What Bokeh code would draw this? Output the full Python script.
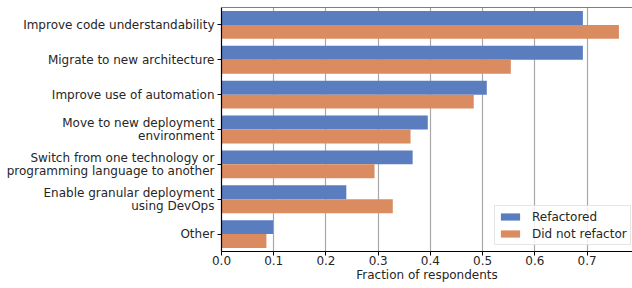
from bokeh.plotting import figure
from bokeh.models import (ColumnDataSource, FixedTicker, Span, Legend, LegendItem,
                          Range1d, FactorRange, CustomJSTickFormatter)
from bokeh.transform import dodge
from bokeh.embed import file_html
from bokeh.resources import INLINE

categories = [
    "Improve code understandability",
    "Migrate to new architecture",
    "Improve use of automation",
    "Move to new deployment\nenvironment",
    "Switch from one technology or\nprogramming language to another",
    "Enable granular deployment\nusing DevOps",
    "Other",
]
refactored = [0.692, 0.692, 0.508, 0.395, 0.366, 0.239, 0.099]
did_not_refactor = [0.761, 0.554, 0.483, 0.362, 0.293, 0.328, 0.086]
series = ["Refactored", "Did not refactor"]
colors = ["#5a7dc0", "#da8b60"]
x_ticks = [0.0, 0.1, 0.2, 0.3, 0.4, 0.5, 0.6, 0.7]
x_label = "Fraction of respondents"

src = ColumnDataSource(dict(cat=categories, refactored=refactored, did_not=did_not_refactor))

FONT = "DejaVu Sans"

p = figure(width=632, height=288, output_backend="svg", toolbar_location=None,
           y_range=FactorRange(factors=categories[::-1]), x_range=Range1d(0, 0.787),
           min_border_left=221, min_border_right=0, min_border_top=7, min_border_bottom=37)

r1 = p.hbar(y=dodge("cat", 0.2, range=p.y_range), height=0.4, left=0, right="refactored",
            source=src, color=colors[0], line_color=None)
r2 = p.hbar(y=dodge("cat", -0.2, range=p.y_range), height=0.4, left=0, right="did_not",
            source=src, color=colors[1], line_color=None)

p.outline_line_color = None
p.add_layout(Span(location=7, dimension="width", line_color="black", line_width=1.2, level="overlay"))

p.xaxis.ticker = FixedTicker(ticks=x_ticks)
p.xaxis.formatter = CustomJSTickFormatter(code="return tick.toFixed(1);")
p.xaxis.axis_label = x_label
p.xaxis.axis_label_text_font = FONT
p.xaxis.axis_label_text_font_size = "12px"
p.xaxis.axis_label_text_font_style = "normal"
p.xaxis.axis_label_text_color = "#262626"
p.xaxis.axis_label_standoff = 0

for ax in (p.xaxis, p.yaxis):
    ax.major_label_text_font = FONT
    ax.major_label_text_font_size = "12px"
    ax.major_label_text_color = "#262626"
    ax.axis_line_color = "black"
    ax.axis_line_width = 1.2
    ax.major_tick_line_color = "black"
    ax.major_tick_in = 0
    ax.major_tick_out = 4
    ax.minor_tick_line_color = None

p.xaxis.major_label_standoff = 0
p.yaxis.major_label_standoff = 3
p.yaxis.major_label_text_line_height = 0.9

p.xgrid.grid_line_color = "#a8a8a8"
p.xgrid.grid_line_width = 1.2
p.ygrid.grid_line_color = None

legend = Legend(items=[LegendItem(label=series[0], renderers=[r1]),
                       LegendItem(label=series[1], renderers=[r2])],
                location=(273, 6), margin=0, padding=3, spacing=2,
                label_height=15, glyph_height=9, glyph_width=24, label_standoff=10,
                label_text_font=FONT, label_text_font_size="12px", label_text_color="#262626",
                border_line_color="#cccccc", background_fill_alpha=0.8)
p.add_layout(legend)

open("out.html", "w").write(file_html(p, INLINE))
